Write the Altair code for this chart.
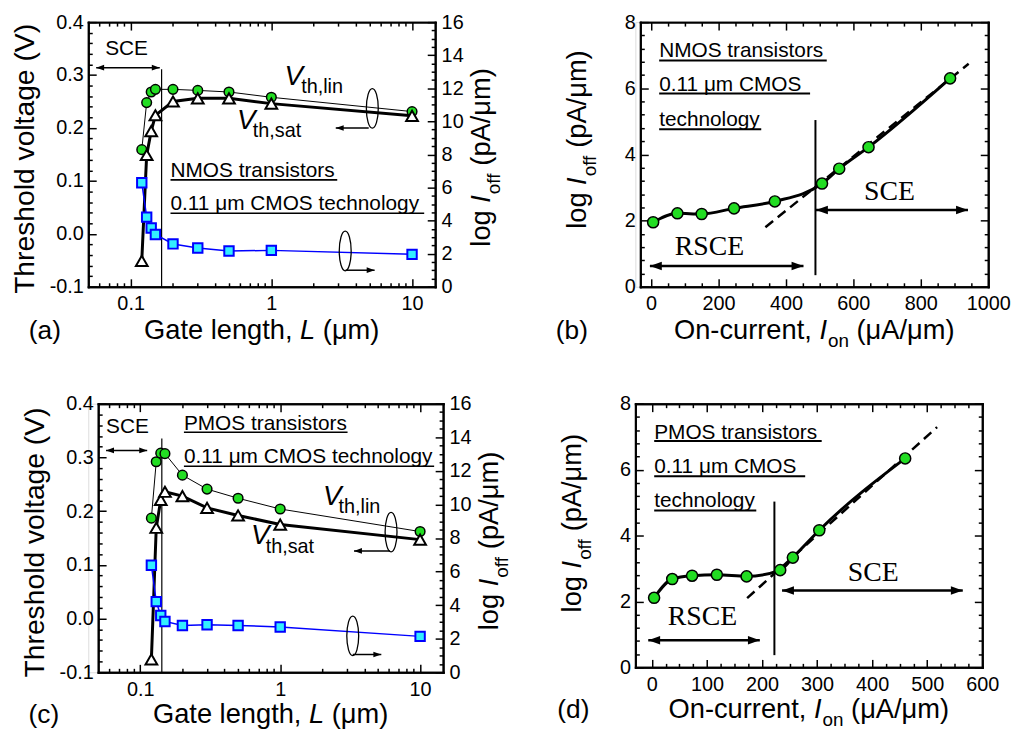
import altair as alt
import pandas as pd

FONT = "Liberation Sans"
SERIF = "Liberation Serif"
GREEN = "#22dd22"
CYAN = "#33eeff"
BLUE = "#0000ff"

# ------------------------------------------------------------------ data
gate_length = [0.12, 0.13, 0.14, 0.15, 0.2, 0.3, 0.5, 1, 10]

nmos_vth_lin = [0.159, 0.248, 0.268, 0.273, 0.273, 0.271, 0.268, 0.258, 0.231]
nmos_vth_sat = [-0.051, 0.149, 0.194, 0.224, 0.250, 0.256, 0.256, 0.246, 0.223]
nmos_log_ioff = [6.29, 4.21, 3.55, 3.16, 2.59, 2.34, 2.16, 2.20, 1.96]

pmos_vth_lin = [0.187, 0.292, 0.308, 0.307, 0.267, 0.241, 0.224, 0.204, 0.162]
pmos_vth_sat = [-0.076, 0.169, 0.221, 0.236, 0.228, 0.206, 0.192, 0.175, 0.147]
pmos_log_ioff = [6.38, 4.21, 3.38, 3.03, 2.79, 2.83, 2.79, 2.70, 2.14]

nmos_ion = [6, 78, 150, 246, 367, 507, 558, 645, 887]
nmos_ioff_vs_ion = [1.95, 2.22, 2.20, 2.37, 2.58, 3.12, 3.57, 4.22, 6.30]
nmos_fit_ion = [339, 942]
nmos_fit_ioff = [1.80, 6.74]

pmos_ion = [4, 37, 73, 118, 172, 233, 256, 304, 460]
pmos_ioff_vs_ion = [2.11, 2.68, 2.78, 2.81, 2.76, 2.95, 3.33, 4.16, 6.34]
pmos_fit_ion = [173, 518]
pmos_fit_ioff = [2.10, 7.29]

# annotation anchors (data coordinates)
note_a = {
    "sce_text": ("SCE", 0.0659, 0.338),
    "sce_arrow": (0.0569, 0.161, 0.314),
    "divider": (0.166, -0.1, 0.311),
    "labels": [("NMOS transistors", 0.192, 0.107), ("0.11 μm CMOS technology", 0.192, 0.0455)],
    "underlines": [(0.192, 2.94, 0.102), (0.192, 12.2, 0.039)],
    "vlin": (1.24, 0.282, 1.63, 0.267),
    "vsat": (0.569, 0.198, 0.738, 0.183),
    "ellipse_left": (5.22, 0.237), "arrow_left": (2.87, 4.92, 0.200),
    "ellipse_right": (3.35, 2.16), "arrow_right": (3.37, 5.42, 1.0),
}
note_c = {
    "sce_text": ("SCE", 0.0569, 0.345),
    "sce_arrow": (0.0569, 0.112, 0.313),
    "divider": (0.1425, -0.1, 0.335),
    "labels": [("PMOS transistors", 0.205, 0.3515), ("0.11 μm CMOS technology", 0.205, 0.289)],
    "underlines": [(0.205, 3.03, 0.347), (0.205, 12.6, 0.2835)],
    "vlin": (2.02, 0.212, 2.61, 0.197),
    "vsat": (0.618, 0.138, 0.787, 0.123),
    "ellipse_left": (6.2, 0.161), "arrow_left": (3.37, 6.1, 0.126),
    "ellipse_right": (3.30, 2.17), "arrow_right": (3.30, 5.28, 1.06),
}
note_b = {
    "labels": [("NMOS transistors", 23.9, 6.94), ("0.11 μm CMOS", 23.9, 5.92), ("technology", 23.9, 4.86)],
    "underlines": [(23.9, 521, 6.84), (23.9, 471.6, 5.84), (23.9, 326.7, 4.76)],
    "divider": (487.5, 0.35, 5.04),
    "rsce_arrow": (-3.6, 452, 0.63), "rsce_text": ("RSCE", 173, 0.95),
    "sce_arrow": (489, 940, 2.32), "sce_text": ("SCE", 707, 2.63),
}
note_d = {
    "labels": [("PMOS transistors", 4.2, 6.94), ("0.11 μm CMOS", 4.2, 5.90), ("technology", 4.2, 4.86)],
    "underlines": [(4.2, 308.4, 6.87), (4.2, 278.4, 5.80), (4.2, 189.6, 4.76)],
    "divider": (222.5, 0.37, 5.03),
    "rsce_arrow": (-6.6, 196, 0.82), "rsce_text": ("RSCE", 91.8, 1.29),
    "sce_arrow": (236.4, 564.6, 2.33), "sce_text": ("SCE", 402, 2.63),
}

# tick values (major = labelled, minor = short ticks)
LOG_MAJOR = [0.1, 1, 10]
LOG_MINOR = [0.06, 0.07, 0.08, 0.09, 0.2, 0.3, 0.4, 0.5, 0.6, 0.7, 0.8, 0.9,
             2, 3, 4, 5, 6, 7, 8, 9]
V_MAJOR = [-0.1, 0.0, 0.1, 0.2, 0.3, 0.4]
V_MINOR = [-0.08, -0.06, -0.04, -0.02, 0.02, 0.04, 0.06, 0.08, 0.12, 0.14, 0.16, 0.18,
           0.22, 0.24, 0.26, 0.28, 0.32, 0.34, 0.36, 0.38]
R_MAJOR = [0, 2, 4, 6, 8, 10, 12, 14, 16]
R_MINOR = [0.5, 1, 1.5, 2.5, 3, 3.5, 4.5, 5, 5.5, 6.5, 7, 7.5, 8.5, 9, 9.5, 10.5, 11, 11.5,
           12.5, 13, 13.5, 14.5, 15, 15.5]
Y8_MAJOR = [0, 2, 4, 6, 8]
Y8_MINOR = [0.4, 0.8, 1.2, 1.6, 2.4, 2.8, 3.2, 3.6, 4.4, 4.8, 5.2, 5.6, 6.4, 6.8, 7.2, 7.6]
B_MAJOR = [0, 200, 400, 600, 800, 1000]
B_MINOR = [50, 100, 150, 250, 300, 350, 450, 500, 550, 650, 700, 750, 850, 900, 950]
D_MAJOR = [0, 100, 200, 300, 400, 500, 600]
D_MINOR = [25, 50, 75, 125, 150, 175, 225, 250, 275, 325, 350, 375, 425, 450, 475, 525, 550, 575]

# ------------------------------------------------------------------ helpers
CHAR_W = {' ': 278, '(': 333, ')': 333, ',': 278, '-': 333, '/': 278, '.': 278,
          'A': 667, 'C': 722, 'E': 667, 'G': 778, 'I': 278, 'L': 556, 'O': 778,
          'T': 611, 'V': 667, 'a': 556, 'c': 500, 'd': 556, 'e': 556, 'f': 278,
          'g': 556, 'h': 556, 'i': 222, 'l': 222, 'm': 833, 'n': 556, 'o': 556,
          'p': 556, 'r': 333, 's': 500, 't': 278, 'u': 556, 'v': 500, 'y': 500,
          'μ': 576}


def tw(s, size):
    return sum(CHAR_W.get(ch, 556) for ch in s) * size / 1000.0


ONE = pd.DataFrame({"k": [0]})
TF = 27.5
SP = 0.278 * TF


def ptext(txt, x, y, size, style="normal", angle=0, align="left"):
    props = dict(text=txt, font=FONT, fontSize=size, fontStyle=style, align=align,
                 baseline="alphabetic", color="black")
    if angle:
        props["angle"] = angle
    return alt.Chart(ONE).mark_text(**props).encode(x=alt.value(x), y=alt.value(y))


def rich(segs, anchor, base, vertical=False):
    total = sum(tw(t, s) + g for t, s, st, dy, g in segs)
    out = []
    pos = anchor + total / 2 if vertical else anchor - total / 2
    for t, s, st, dy, g in segs:
        if vertical:
            out.append(ptext(t, base + dy, pos, s, st, angle=270))
            pos -= tw(t, s) + g
        else:
            out.append(ptext(t, pos, base + dy, s, st))
            pos += tw(t, s) + g
    return out


GATE = [("Gate length,", TF, "normal", 0, SP), ("L", TF, "italic", 0, SP),
        ("(μm)", TF, "normal", 0, 0)]
ION = [("On-current,", TF, "normal", 0, SP), ("I", TF, "italic", 0, 1),
       ("on", 19, "normal", 8, SP), ("(μA/μm)", TF, "normal", 0, 0)]
IOFF = [("log", TF, "normal", 0, SP), ("I", TF, "italic", 0, 1),
        ("off", 19, "normal", 10, SP), ("(pA/μm)", TF, "normal", 0, 0)]


def ax(orient, values, fmt=None, labels=False, pad=13, offset=0, size=8):
    d = dict(orient=orient, values=values, title=None, grid=False,
             domain=True, domainColor="black", domainWidth=2, domainCap="square",
             ticks=True, tickColor="black", tickWidth=1.5,
             tickSize={"expr": str(-size)}, labels=labels, offset=offset)
    if labels:
        d.update(labelFont=FONT, labelFontSize=20, labelColor="black", labelPadding=pad,
                 labelOverlap=False, labelFlush=False, labelBound=False,
                 labelExpr="replace(datum.label, '\u2212', '-')")
        if fmt:
            d["format"] = fmt
    return alt.Axis(**d)


def seg(x1, x2, y1, y2, xs, ys, width):
    df = pd.DataFrame({"a": [x1], "b": [x2], "c": [y1], "d": [y2]})
    return alt.Chart(df).mark_rule(color="black", strokeWidth=width).encode(
        x=alt.X("a:Q", scale=xs, axis=None), x2="b:Q",
        y=alt.Y("c:Q", scale=ys, axis=None), y2="d:Q")


HEAD_L = "M0,0L2,-0.72L2,0.72Z"
HEAD_R = "M0,0L-2,-0.72L-2,0.72Z"
ELLIPSE = "M0,-1A0.3,1 0 1,1 0,1A0.3,1 0 1,1 0,-1Z"


def sym(x, y, xs, ys, shape, size, filled=True, sw=1.3):
    df = pd.DataFrame({"a": [x], "c": [y]})
    if filled:
        mk = alt.Chart(df).mark_point(shape=shape, size=size, filled=True, fill="black",
                                       strokeWidth=0, opacity=1)
    else:
        mk = alt.Chart(df).mark_point(shape=shape, size=size, filled=False, color="black",
                                       strokeWidth=sw, opacity=1)
    return mk.encode(x=alt.X("a:Q", scale=xs, axis=None), y=alt.Y("c:Q", scale=ys, axis=None))


def arrow(x1, x2, y, xs, ys, width, hsize, left=True, right=True):
    out = [seg(x1, x2, y, y, xs, ys, width)]
    if left:
        out.append(sym(x1, y, xs, ys, HEAD_L, hsize))
    if right:
        out.append(sym(x2, y, xs, ys, HEAD_R, hsize))
    return out


def dtext(txt, x, y, xs, ys, size=21, style="normal", align="left", font=FONT):
    df = pd.DataFrame({"a": [x], "c": [y]})
    return alt.Chart(df).mark_text(text=txt, font=font, fontSize=size, fontStyle=style,
                                   align=align, baseline="alphabetic", color="black").encode(
        x=alt.X("a:Q", scale=xs, axis=None), y=alt.Y("c:Q", scale=ys, axis=None))


def carrier(base, xf, yf, xs, ys, xaxis, yaxis):
    return base.mark_point(opacity=0).encode(
        x=alt.X(xf + ":Q", scale=xs, axis=xaxis),
        y=alt.Y(yf + ":Q", scale=ys, axis=yaxis))


# ------------------------------------------------------------------ panels
def vth_panel(L, vlin, vsat, ioff, note, off, w, h, tag, tag_x, tby, lt_x, lt_cy, rt_x, rt_cy):
    xs = alt.Scale(type="log", domain=[0.05, 14.6], nice=False, rangeMin=off)
    ys = alt.Scale(domain=[-0.1, 0.4], nice=False, zero=False)
    yr = alt.Scale(domain=[0, 16], nice=False, zero=False)
    df = pd.DataFrame({"L": L, "vlin": vlin, "vsat": vsat, "ioff": ioff})
    base = alt.Chart(df)
    X = alt.X("L:Q", scale=xs, axis=None)

    def yv(f):
        return alt.Y(f + ":Q", scale=ys, axis=None)

    def yi(f):
        return alt.Y(f + ":Q", scale=yr, axis=None)

    left = [
        base.mark_line(color="black", strokeWidth=1).encode(x=X, y=yv("vlin")),
        base.mark_line(color="black", strokeWidth=3).encode(x=X, y=yv("vsat")),
        seg(note["divider"][0], note["divider"][0], note["divider"][1], note["divider"][2], xs, ys, 1.2),
    ]
    left += arrow(*note["sce_arrow"], xs, ys, 1.5, 64)
    t, tx, ty = note["sce_text"]
    left.append(dtext(t, tx, ty, xs, ys))
    for t, tx, ty in note["labels"]:
        left.append(dtext(t, tx, ty, xs, ys))
    for x1, x2, y in note["underlines"]:
        left.append(seg(x1, x2, y, y, xs, ys, 1.6))
    vx, vy, sx, sy = note["vlin"]
    left += [dtext("V", vx, vy, xs, ys, 28, "italic"), dtext("th,lin", sx, sy, xs, ys, 20)]
    vx, vy, sx, sy = note["vsat"]
    left += [dtext("V", vx, vy, xs, ys, 28, "italic"), dtext("th,sat", sx, sy, xs, ys, 20)]
    ex, ey = note["ellipse_left"]
    left.append(sym(ex, ey, xs, ys, ELLIPSE, 1600, filled=False))
    a1, a2, ay = note["arrow_left"]
    left += arrow(a1, a2, ay, xs, ys, 1.5, 64, left=True, right=False)
    left += [
        base.mark_point(shape="circle", filled=True, fill=GREEN, stroke="black",
                        strokeWidth=1.5, size=95, opacity=1).encode(x=X, y=yv("vlin")),
        base.mark_point(shape="triangle-up", filled=True, fill="white", stroke="black",
                        strokeWidth=2, size=140, opacity=1).encode(x=X, y=yv("vsat")),
        carrier(base, "L", "vlin", xs, ys,
                ax("bottom", LOG_MAJOR, "~g", labels=True, pad=15),
                ax("left", V_MAJOR, ".1f", labels=True, pad=13, offset=-off)),
        carrier(base, "L", "vlin", xs, ys,
                ax("bottom", LOG_MINOR, size=4),
                ax("left", V_MINOR, offset=-off, size=4)),
        carrier(base, "L", "vlin", xs, ys, ax("top", LOG_MAJOR), None),
        carrier(base, "L", "vlin", xs, ys, ax("top", LOG_MINOR, size=4), None),
    ]
    right = [
        base.mark_line(color=BLUE, strokeWidth=1.5).encode(x=X, y=yi("ioff")),
        base.mark_point(shape="square", filled=True, fill=CYAN, stroke=BLUE,
                        strokeWidth=2, size=90, opacity=1).encode(x=X, y=yi("ioff")),
    ]
    ex, ey = note["ellipse_right"]
    right.append(sym(ex, ey, xs, yr, ELLIPSE, 1600, filled=False))
    a1, a2, ay = note["arrow_right"]
    right += arrow(a1, a2, ay, xs, yr, 1.5, 64, left=False, right=True)
    right += [
        carrier(base, "L", "ioff", xs, yr, None, ax("right", R_MAJOR, "d", labels=True, pad=14)),
        carrier(base, "L", "ioff", xs, yr, None, ax("right", R_MINOR, size=4)),
    ]

    texts = [ptext(tag, tag_x, h + tby, 26.5)]
    texts += rich(GATE, off + w / 2, h + tby)
    texts.append(ptext("Threshold voltage (V)", lt_x, lt_cy, 28.5, angle=270, align="center"))
    texts += rich(IOFF, rt_cy, rt_x, vertical=True)

    lg = alt.layer(*left).resolve_axis(x="independent", y="independent")
    rg = alt.layer(*right).resolve_axis(x="independent", y="independent")
    return alt.layer(lg, rg, *texts).resolve_scale(y="independent").properties(
        width=off + w, height=h)


def ion_panel(ion, ioff, fit_x, fit_y, note, off, w, h, xdom, xmajor, xminor,
              tag, tag_x, tby, lt_x, lt_cy):
    xs = alt.Scale(domain=xdom, nice=False, zero=False, rangeMin=off)
    ys = alt.Scale(domain=[0, 8], nice=False, zero=False)
    df = pd.DataFrame({"ion": ion, "ioff": ioff})
    fdf = pd.DataFrame({"ion": fit_x, "ioff": fit_y})
    base = alt.Chart(df)
    X = alt.X("ion:Q", scale=xs, axis=None)
    Y = alt.Y("ioff:Q", scale=ys, axis=None)
    layers = [
        alt.Chart(fdf).mark_line(color="black", strokeWidth=2.5, strokeDash=[10, 6]).encode(x=X, y=Y),
        base.mark_line(color="black", strokeWidth=3, interpolate="monotone").encode(x=X, y=Y),
        seg(note["divider"][0], note["divider"][0], note["divider"][1], note["divider"][2], xs, ys, 2),
    ]
    for t, tx, ty in note["labels"]:
        layers.append(dtext(t, tx, ty, xs, ys))
    for x1, x2, y in note["underlines"]:
        layers.append(seg(x1, x2, y, y, xs, ys, 2))
    layers += arrow(*note["rsce_arrow"], xs, ys, 2.5, 144)
    layers += arrow(*note["sce_arrow"], xs, ys, 2.5, 144)
    t, tx, ty = note["rsce_text"]
    layers.append(dtext(t, tx, ty, xs, ys, 28, align="center", font=SERIF))
    t, tx, ty = note["sce_text"]
    layers.append(dtext(t, tx, ty, xs, ys, 28, align="center", font=SERIF))
    layers += [
        base.mark_point(shape="circle", filled=True, fill=GREEN, stroke="black",
                        strokeWidth=1.5, size=125, opacity=1).encode(x=X, y=Y),
        carrier(base, "ion", "ioff", xs, ys,
                ax("bottom", xmajor, "d", labels=True, pad=15),
                ax("left", Y8_MAJOR, "d", labels=True, pad=13, offset=-off)),
        carrier(base, "ion", "ioff", xs, ys,
                ax("bottom", xminor, size=4),
                ax("left", Y8_MINOR, offset=-off, size=4)),
        carrier(base, "ion", "ioff", xs, ys, ax("top", xmajor), ax("right", Y8_MAJOR)),
        carrier(base, "ion", "ioff", xs, ys, ax("top", xminor, size=4), ax("right", Y8_MINOR, size=4)),
    ]
    texts = [ptext(tag, tag_x, h + tby, 26.5)]
    texts += rich(ION, off + w / 2, h + tby)
    texts += rich(IOFF, lt_cy, lt_x, vertical=True)
    return alt.layer(*layers, *texts).resolve_axis(x="independent", y="independent").properties(
        width=off + w, height=h)


pa = vth_panel(gate_length, nmos_vth_lin, nmos_vth_sat, nmos_log_ioff, note_a,
               0, 350, 267, "(a)", -60, 53, -55, 138, 405, 136.5)
pb = ion_panel(nmos_ion, nmos_ioff_vs_ion, nmos_fit_ion, nmos_fit_ioff, note_b,
               5, 351, 267, [-32, 1000], B_MAJOR, B_MINOR, "(b)", -80.3, 53, -50, 118.5)
pc = vth_panel(gate_length, pmos_vth_lin, pmos_vth_sat, pmos_log_ioff, note_c,
               10, 348, 271, "(c)", -60.3, 51, -45, 140, 413, 138.5)
pdd = ion_panel(pmos_ion, pmos_ioff_vs_ion, pmos_fit_ion, pmos_fit_ioff, note_d,
                0, 350, 266, [-30, 600], D_MAJOR, D_MINOR, "(d)", -78.7, 51.5, -55, 120.5)

chart = alt.concat(pa, pb, pc, pdd, columns=2, spacing={"row": 118, "column": 194},
                   bounds="flush").properties(
    padding={"left": 2, "top": 0, "right": 0, "bottom": 0}, background="white"
).configure_view(stroke=None).configure(font=FONT)

chart.save("out.html", embed_options={"renderer": "svg", "actions": False})
